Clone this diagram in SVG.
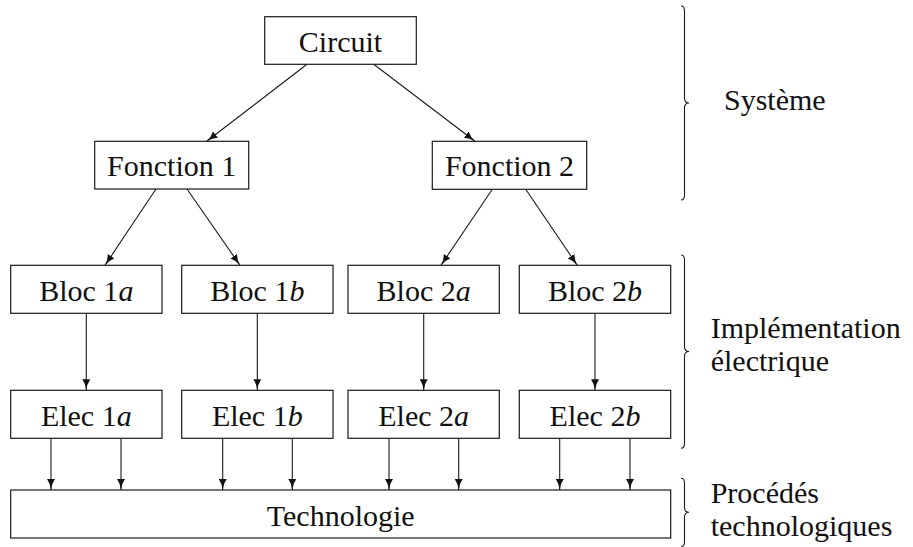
<svg xmlns="http://www.w3.org/2000/svg" width="913" height="547" viewBox="0 0 913 547">
  <style>
    .box { fill: #ffffff; stroke: #1a1a1a; stroke-width: 1.2; }
    .lbl { font-size: 30px; fill: #111111; }
    .mid { text-anchor: middle; }
    .it { font-style: italic; }
    .edge { fill: none; stroke: #1a1a1a; stroke-width: 1.1; marker-end: url(#head); }
    .brace { fill: none; stroke: #1a1a1a; stroke-width: 1.1; }
  </style>
  <defs>
    <marker id="head" markerUnits="userSpaceOnUse" markerWidth="12" markerHeight="10" refX="11" refY="4" orient="auto" viewBox="0 0 12 10">
      <path d="M0,0 Q4.5,3.3 11,4 Q4.5,4.7 0,8 Z" fill="#111111"/>
    </marker>
  </defs>
  <rect width="913" height="547" fill="#ffffff"/>

  <!-- connectors -->
  <g id="connectors">
    <line class="edge" x1="307" y1="64.3" x2="206.7" y2="141.3"/>
    <line class="edge" x1="373.7" y1="64.3" x2="475" y2="141.3"/>
    <line class="edge" x1="156" y1="189" x2="105" y2="265.3"/>
    <line class="edge" x1="187" y1="189" x2="240" y2="265.3"/>
    <line class="edge" x1="492.3" y1="189.3" x2="441" y2="265.3"/>
    <line class="edge" x1="525.7" y1="189.3" x2="577.3" y2="265.3"/>
    <line class="edge" x1="86.3" y1="313.3" x2="86.3" y2="390.3"/>
    <line class="edge" x1="257.3" y1="313.3" x2="257.3" y2="390.3"/>
    <line class="edge" x1="423.7" y1="313.3" x2="423.7" y2="390.3"/>
    <line class="edge" x1="595" y1="313.3" x2="595" y2="390.3"/>
    <line class="edge" x1="51" y1="438.3" x2="51" y2="490"/>
    <line class="edge" x1="121" y1="438.3" x2="121" y2="490"/>
    <line class="edge" x1="222.7" y1="438.3" x2="222.7" y2="490"/>
    <line class="edge" x1="292.3" y1="438.3" x2="292.3" y2="490"/>
    <line class="edge" x1="389" y1="438.3" x2="389" y2="490"/>
    <line class="edge" x1="458.7" y1="438.3" x2="458.7" y2="490"/>
    <line class="edge" x1="559.7" y1="438.3" x2="559.7" y2="490"/>
    <line class="edge" x1="630" y1="438.3" x2="630" y2="490"/>
  </g>

  <g font-family="Liberation Serif, Tinos, Times New Roman, Times, Noto Serif, DejaVu Serif, FreeSerif, Nimbus Roman, serif">
  <!-- nodes -->
  <g id="circuit">
    <rect class="box" x="264.7" y="16.7" width="151.6" height="47.6"/>
    <text class="lbl mid" x="340.5" y="52">Circuit</text>
  </g>
  <g id="fonction1">
    <rect class="box" x="94.7" y="141.3" width="154" height="47.7"/>
    <text class="lbl mid" x="171.7" y="175.5">Fonction 1</text>
  </g>
  <g id="fonction2">
    <rect class="box" x="432.3" y="141.3" width="154.4" height="48"/>
    <text class="lbl mid" x="509.5" y="175.5">Fonction 2</text>
  </g>
  <g id="bloc1a">
    <rect class="box" x="10.7" y="265.3" width="151.3" height="48"/>
    <text class="lbl mid" x="86.3" y="301">Bloc 1<tspan class="it">a</tspan></text>
  </g>
  <g id="bloc1b">
    <rect class="box" x="181.7" y="265.3" width="151.3" height="48"/>
    <text class="lbl mid" x="257.3" y="301">Bloc 1<tspan class="it">b</tspan></text>
  </g>
  <g id="bloc2a">
    <rect class="box" x="348" y="265.3" width="151.3" height="48"/>
    <text class="lbl mid" x="423.7" y="301">Bloc 2<tspan class="it">a</tspan></text>
  </g>
  <g id="bloc2b">
    <rect class="box" x="519.3" y="265.3" width="151.4" height="48"/>
    <text class="lbl mid" x="595" y="301">Bloc 2<tspan class="it">b</tspan></text>
  </g>
  <g id="elec1a">
    <rect class="box" x="10.7" y="390.3" width="151.3" height="48"/>
    <text class="lbl mid" x="86.3" y="426">Elec 1<tspan class="it">a</tspan></text>
  </g>
  <g id="elec1b">
    <rect class="box" x="181.7" y="390.3" width="151.3" height="48"/>
    <text class="lbl mid" x="257.3" y="426">Elec 1<tspan class="it">b</tspan></text>
  </g>
  <g id="elec2a">
    <rect class="box" x="348" y="390.3" width="151.3" height="48"/>
    <text class="lbl mid" x="423.7" y="426">Elec 2<tspan class="it">a</tspan></text>
  </g>
  <g id="elec2b">
    <rect class="box" x="519.3" y="390.3" width="151.4" height="48"/>
    <text class="lbl mid" x="595" y="426">Elec 2<tspan class="it">b</tspan></text>
  </g>
  <g id="technologie">
    <rect class="box" x="10.7" y="490" width="660" height="48"/>
    <text class="lbl mid" x="340.7" y="525.5">Technologie</text>
  </g>

  <!-- level braces and captions -->
  <g id="systeme">
    <path class="brace" d="M681,6 Q684.5,6 684.5,11 L684.5,98 Q684.5,103 689,103 Q684.5,103 684.5,108 L684.5,195 Q684.5,200 681,200"/>
    <text class="lbl" x="724" y="110">Système</text>
  </g>
  <g id="implementation">
    <path class="brace" d="M681,255 Q684.5,255 684.5,260 L684.5,346.5 Q684.5,351.5 689,351.5 Q684.5,351.5 684.5,356.5 L684.5,443.3 Q684.5,448.3 681,448.3"/>
    <text class="lbl" x="710.7" y="337.7">Implémentation</text>
    <text class="lbl" x="710.7" y="370.7">électrique</text>
  </g>
  <g id="procedes">
    <path class="brace" d="M681,478.3 Q684.5,478.3 684.5,483.3 L684.5,507.3 Q684.5,512.3 689,512.3 Q684.5,512.3 684.5,517.3 L684.5,541.7 Q684.5,546.7 681,546.7"/>
    <text class="lbl" x="710.7" y="502.7">Procédés</text>
    <text class="lbl" x="710.7" y="535.5">technologiques</text>
  </g>
  </g>
</svg>
